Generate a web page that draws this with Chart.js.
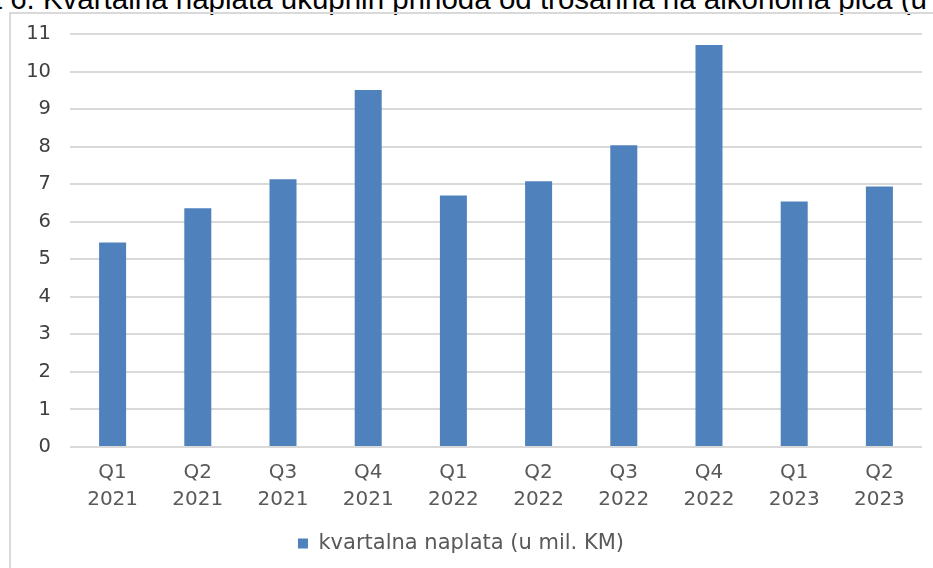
<!DOCTYPE html>
<html>
<head>
<meta charset="utf-8">
<script src="https://cdn.jsdelivr.net/npm/chart.js@4"></script>
<style>
  html, body { margin: 0; padding: 0; background: #fff; overflow: hidden; }
  body { width: 933px; height: 568px; position: relative; }
  #naslov {
    position: absolute; top: -16px; left: 0; white-space: nowrap;
    font: 29.5px "Liberation Sans", Arial, sans-serif; line-height: 1; color: #000;
  }
  #okvir {
    position: absolute; left: 9px; top: 12px; width: 1000px; height: 700px;
    border-left: 2px solid #d9d9d9; border-top: 2px solid #d9d9d9;
  }
  #wrap { position: absolute; left: 0; top: 0; width: 924px; height: 568px; }
</style>
</head>
<body>
<div id="naslov"><span id="pre">Slika </span>6. Kvartalna naplata ukupnih prihoda od trošarina na alkoholna pića (u mil. KM)</div>
<div id="okvir"></div>
<div id="wrap"><canvas id="grafikon"></canvas></div>
<script>
const kvartali = [['Q1', '2021'], ['Q2', '2021'], ['Q3', '2021'], ['Q4', '2021'], ['Q1', '2022'],
                  ['Q2', '2022'], ['Q3', '2022'], ['Q4', '2022'], ['Q1', '2023'], ['Q2', '2023']]
const naplata  = [5.45, 6.36, 7.13, 9.51, 6.70, 7.08, 8.04, 10.71, 6.54, 6.94]
const yMin = 0, yMax = 11, yKorak = 1

// naslov je odsječen, vidi se samo od "6." nadalje
const pre = document.getElementById('pre')
document.getElementById('naslov').style.left = (10 - pre.offsetWidth) + 'px'

const porodica = '"DejaVu Sans", Verdana, sans-serif'

new Chart(document.getElementById('grafikon'), {
    type: 'bar',
    data: {
        labels: kvartali,
        datasets: [{
            label: 'kvartalna naplata (u mil. KM)',
            data: naplata,
            backgroundColor: '#4f81bd',
            borderWidth: 0,
            barPercentage: 1,
            categoryPercentage: 0.317,
        }]
    },
    options: {
        responsive: true,
        maintainAspectRatio: false,
        animation: false,
        layout: { padding: { left: 0, right: 2, top: 34, bottom: 4 } },
        plugins: {
            tooltip: { enabled: false },
            legend: {
                position: 'bottom',
                labels: {
                    font: { family: porodica, size: 21 }, color: '#595959',
                    boxWidth: 10, boxHeight: 10, padding: 10,
                }
            }
        },
        scales: {
            x: {
                grid: { display: false, drawTicks: false },
                border: { display: false },
                ticks: { font: { family: porodica, size: 20, lineHeight: 1.35 }, color: '#595959', padding: 12, maxRotation: 0 },
                afterFit: s => { s.height = 76 }
            },
            y: {
                min: yMin, max: yMax,
                grid: { color: '#d9d9d9', lineWidth: 2, drawTicks: false },
                border: { display: false },
                ticks: { stepSize: yKorak, font: { family: porodica, size: 19.5 }, color: '#404040', padding: 19 },
                afterFit: s => { s.width = 70 }
            }
        }
    }
})
</script>
</body>
</html>
